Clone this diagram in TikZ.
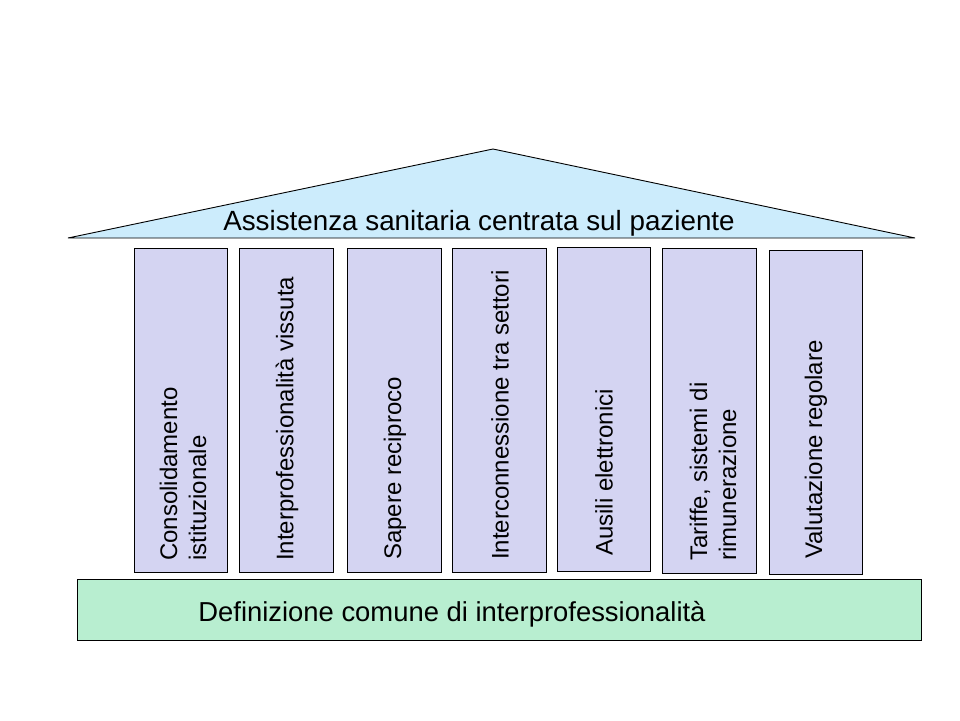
\documentclass[tikz,border=0pt]{standalone}
\usepackage{fontspec}
\setmainfont{Liberation Sans}
\definecolor{roofc}{RGB}{204,236,252}
\definecolor{pillarc}{RGB}{212,212,242}
\definecolor{basec}{RGB}{184,238,208}
\begin{document}
\begin{tikzpicture}[x=1pt,y=-1pt,
  pillar/.style={draw=black,line width=0.9pt,fill=pillarc},
  ptext/.style={rotate=90,anchor=west,align=left,inner sep=0pt,font=\fontsize{24}{29}\selectfont},
  bigtext/.style={anchor=base,inner sep=0pt,font=\fontsize{27.8}{33}\selectfont}]
\useasboundingbox[fill=white] (0,0) rectangle (960,720);
% roof
\coordinate (rl) at (68,238);
\coordinate (ra) at (493,149);
\coordinate (rr) at (915,238);
\draw[line width=0.9pt,fill=roofc,line join=bevel] (rl) -- (ra) -- (rr) -- cycle;
\node[bigtext] (title) at (479,230) {Assistenza sanitaria centrata sul paziente};
% base
\draw[line width=0.9pt,fill=basec] (77,579) rectangle (921,640);
\node[bigtext,font=\fontsize{27.4}{33}\selectfont] (basetext) at (452,621) {Definizione comune di interprofessionalità};
% pillars
\draw[pillar] (134,248) rectangle (227,572);
\draw[pillar] (239,248) rectangle (333,572);
\draw[pillar] (347,248) rectangle (441,572);
\draw[pillar] (452,248) rectangle (546,572);
\draw[pillar] (557,247) rectangle (650,571);
\draw[pillar] (662,248) rectangle (756,573);
\draw[pillar] (769,250) rectangle (862,574);
\node[ptext] (t1) at (183,561) {Consolidamento\\istituzionale};
\node[ptext] (t2) at (287,561) {Interprofessionalità vissuta};
\node[ptext] (t3) at (395,560) {Sapere reciproco};
\node[ptext] (t4) at (500,560) {Interconnessione tra settori};
\node[ptext] (t5) at (604,556) {Ausili elettronici};
\node[ptext] (t6) at (713,561) {Tariffe, sistemi di\\rimunerazione};
\node[ptext] (t7) at (816,559) {Valutazione regolare};
\end{tikzpicture}
\end{document}
